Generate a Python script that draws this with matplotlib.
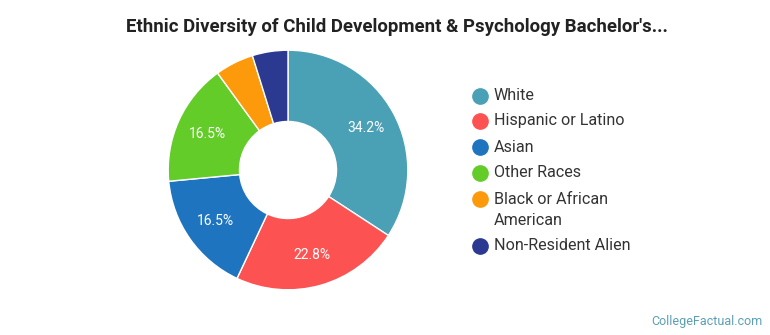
import matplotlib.pyplot as plt
from matplotlib.lines import Line2D

plt.rcParams['font.family'] = ['Roboto', 'DejaVu Sans']

labels = ["White", "Hispanic or Latino", "Asian", "Other Races",
          "Black or African\nAmerican", "Non-Resident Alien"]
values = [34.2, 22.8, 16.5, 16.5, 5.2, 4.8]
colors = ["#4aa0b5", "#fc5252", "#1f74c0", "#63cc29", "#fc9a0c", "#2b3990"]

W, H = 770, 335
fig = plt.figure(figsize=(W / 100, H / 100), dpi=100)

# donut, centre at (288, 170) px, radius 121 px
cx, cy, r = 288, 170, 121
ax = fig.add_axes([(cx - r) / W, (H - cy - r) / H, 2 * r / W, 2 * r / H])
wedges, texts, autotexts = ax.pie(
    values, colors=colors, startangle=90, counterclock=False,
    wedgeprops=dict(width=0.595, edgecolor="white", linewidth=1),
    autopct=lambda p: f"{p:.1f}%" if p > 8 else "", pctdistance=0.74,
    textprops=dict(color="white", fontsize=10))
ax.set_xlim(-1.01, 1.01)
ax.set_ylim(-1.01, 1.01)
ax.set_aspect("equal")

fig.text(397 / W, 1 - 27 / H, "Ethnic Diversity of Child Development & Psychology Bachelor's...",
         ha="center", va="center", fontsize=13.4, fontweight="bold", color="#222222")

# legend, drawn by hand so the two-line label sits like the original
rows = [96, 121, 147, 173, 199, 246]
for lab, col, y in zip(labels, colors, rows):
    fig.add_artist(Line2D([480 / W], [1 - y / H], marker="o", markersize=11,
                          color=col, linestyle="none"))
    fig.text(494 / W, 1 - (y - 7.5) / H, lab, ha="left", va="top",
             fontsize=11.6, color="#333333", linespacing=1.55)

fig.text(763 / W, 1 - 321 / H, "CollegeFactual.com", ha="right", va="center",
         fontsize=9, color="#5b9fb6")

fig.savefig("out.png", dpi=100)
